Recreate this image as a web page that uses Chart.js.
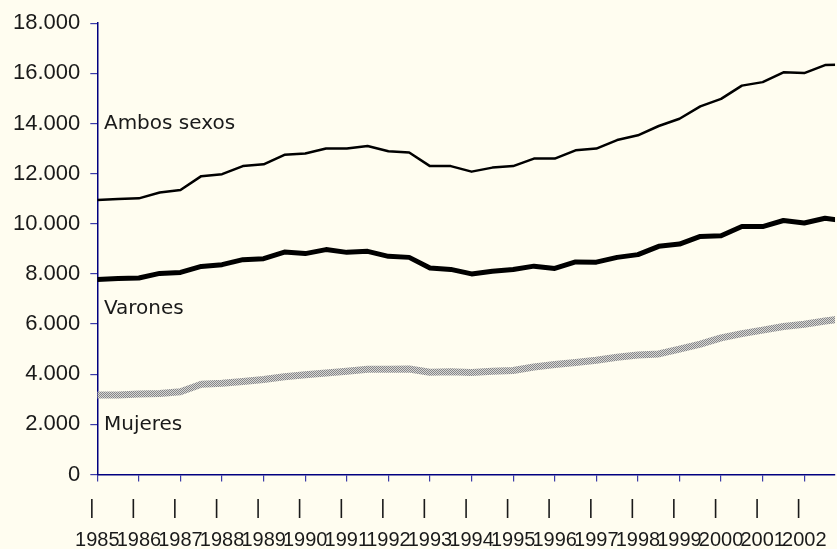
<!DOCTYPE html>
<html>
<head>
<meta charset="utf-8">
<script src="https://cdn.jsdelivr.net/npm/chart.js@4/dist/chart.umd.min.js"></script>
<style>
html,body{margin:0;padding:0;background:#FFFDF0;}
#wrap{width:837px;height:549px;position:relative;overflow:hidden;}
canvas{display:block;}
</style>
</head>
<body>
<div id="wrap"><canvas id="c" width="837" height="549"></canvas></div>
<script>
// Half-yearly periods (year + 0 / 0.5)
const periods = [1985,1985.5,1986,1986.5,1987,1987.5,1988,1988.5,1989,1989.5,
  1990,1990.5,1991,1991.5,1992,1992.5,1993,1993.5,1994,1994.5,
  1995,1995.5,1996,1996.5,1997,1997.5,1998,1998.5,1999,1999.5,
  2000,2000.5,2001,2001.5,2002,2002.5,2003];
const years = [1985,1986,1987,1988,1989,1990,1991,1992,1993,1994,1995,1996,1997,1998,1999,2000,2001,2002];
const yTicks = [0,2000,4000,6000,8000,10000,12000,14000,16000,18000];
const seriesNames = ['Ambos sexos','Varones','Mujeres'];

const ambosSexos = [10950,10990,11015,11250,11350,11900,11980,12300,12370,12750,
  12800,13000,13000,13100,12890,12840,12300,12300,12080,12240,
  12300,12600,12600,12930,13000,13340,13530,13900,14190,14680,
  14980,15510,15650,16040,16010,16330,16350];
const varones = [7780,7820,7840,8020,8060,8300,8370,8570,8610,8870,
  8810,8970,8860,8900,8700,8660,8240,8180,8000,8110,
  8175,8310,8220,8480,8470,8660,8770,9100,9190,9495,
  9520,9890,9890,10130,10030,10220,10100];
const mujeres = [3170,3170,3210,3230,3300,3600,3640,3710,3790,3900,
  3980,4050,4120,4200,4200,4210,4080,4100,4070,4120,
  4150,4290,4390,4470,4560,4680,4770,4810,5000,5200,
  5450,5620,5760,5900,5990,6120,6230];

const canvas = document.getElementById('c');
const ctx = canvas.getContext('2d');

function hatchPattern(){
  const p = document.createElement('canvas');
  p.width = 2; p.height = 2;
  const g = p.getContext('2d');
  g.fillStyle = '#d6d6d6'; g.fillRect(0,0,2,2);
  g.fillStyle = '#878787'; g.fillRect(0,0,1,1); g.fillRect(1,1,1,1);
  return ctx.createPattern(p,'repeat');
}

function fmt(v){ return String(v).replace(/\B(?=(\d{3})+(?!\d))/g,'.'); }

function toXY(vals){ return vals.map((v,i)=>({x:periods[i], y:v})); }

const bgPlugin = {
  id:'bg',
  beforeDraw(chart){
    const c = chart.ctx;
    c.save(); c.fillStyle = '#FFFDF0'; c.fillRect(0,0,chart.width,chart.height); c.restore();
  }
};

const labelPlugin = {
  id:'seriesLabels',
  afterDatasetsDraw(chart){
    const xs = chart.scales.x, ys = chart.scales.y, c = chart.ctx;
    const anchors = [[1985.16,13780],[1985.16,6390],[1985.16,1765]];
    c.save();
    c.font = '20px "DejaVu Sans"';
    c.fillStyle = '#1a1a1a';
    c.textAlign = 'left';
    c.textBaseline = 'alphabetic';
    seriesNames.forEach((n,i)=>{
      c.fillText(n, xs.getPixelForValue(anchors[i][0]), ys.getPixelForValue(anchors[i][1]));
    });
    c.restore();
  }
};

new Chart(ctx, {
  type:'line',
  data:{
    datasets:[
      {label:seriesNames[2], data:toXY(mujeres), borderColor:hatchPattern(), borderWidth:7, pointRadius:0, tension:0, borderJoinStyle:'round', fill:false},
      {label:seriesNames[1], data:toXY(varones), borderColor:'#000000', borderWidth:5, pointRadius:0, tension:0, borderJoinStyle:'round', fill:false},
      {label:seriesNames[0], data:toXY(ambosSexos), borderColor:'#000000', borderWidth:2.5, pointRadius:0, tension:0, borderJoinStyle:'round', fill:false}
    ]
  },
  options:{
    responsive:false,
    animation:false,
    devicePixelRatio:1,
    layout:{padding:{top:21.3,right:0,bottom:0,left:0}},
    plugins:{legend:{display:false}, tooltip:{enabled:false}},
    scales:{
      x:{
        type:'linear', min:1985, max:2002.74,
        afterBuildTicks:s=>{ s.ticks = years.map(v=>({value:v})); },
        afterFit:s=>{ s.height = 74.5; },
        grid:{display:true, drawOnChartArea:false, drawTicks:true, tickLength:7, color:'#3b3ba8', lineWidth:1.2},
        border:{display:true, color:'#000080', width:1.5},
        ticks:{autoSkip:false, maxRotation:0, minRotation:0, padding:10.5, color:'#1a1a1a',
          font:{family:'Liberation Sans', size:20, lineHeight:1.6},
          callback:(v)=>['|  ', String(v)]}
      },
      y:{
        type:'linear', min:0, max:18000,
        afterBuildTicks:s=>{ s.ticks = yTicks.map(v=>({value:v})); },
        afterFit:s=>{ s.width = 97.3; },
        grid:{display:true, drawOnChartArea:false, drawTicks:true, tickLength:7, color:'#3b3ba8', lineWidth:1.2},
        border:{display:true, color:'#000080', width:1.5},
        ticks:{padding:10, color:'#1a1a1a', font:{family:'Liberation Sans', size:22}, callback:(v)=>fmt(v)}
      }
    }
  },
  plugins:[bgPlugin, labelPlugin]
});
</script>
</body>
</html>
